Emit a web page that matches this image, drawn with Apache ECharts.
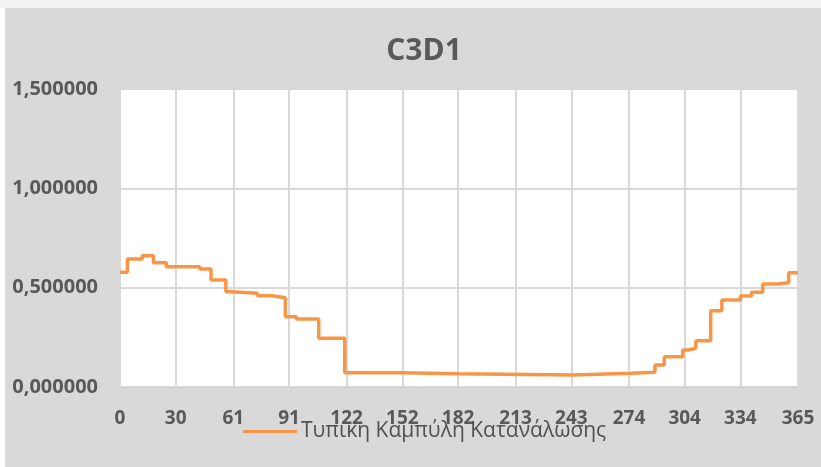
<!DOCTYPE html>
<html>
<head>
<meta charset="utf-8">
<style>
html,body{margin:0;padding:0;background:#ffffff;}
#chart{width:821px;height:467px;}
</style>
<script src="https://cdn.jsdelivr.net/npm/echarts@6/dist/echarts.min.js"></script>
</head>
<body>
<div id="chart"></div>
<script>
// Tick labels on the x axis (day numbers)
var tickDays = [0, 30, 61, 91, 122, 152, 182, 213, 243, 274, 304, 334, 365];
// Day on which each level of the step curve starts
var stepDays = [0, 4, 12, 18, 25, 43, 49, 57, 60, 74, 82, 89, 95, 107, 121, 152, 182, 244, 275, 288, 293, 303, 306, 310, 318, 324, 334, 340, 346, 354, 360, 365];
// Level of the curve from that day on
var stepValues = [0.577, 0.644, 0.661, 0.626, 0.605, 0.594, 0.538, 0.480, 0.472, 0.459, 0.449, 0.354, 0.342, 0.245, 0.072, 0.067, 0.060, 0.069, 0.074, 0.111, 0.152, 0.186, 0.195, 0.233, 0.384, 0.438, 0.458, 0.477, 0.518, 0.525, 0.575, 0.575];
var yTicks = [0, 0.5, 1.0, 1.5];
var seriesName = 'Τυπικη Καμπύλη Κατανάλωσης';
var titleText = 'C3D1';

var categories = [];
for (var d = 0; d <= 365; d++) categories.push(String(d));
var tickSet = {};
tickDays.forEach(function (t) { tickSet[t] = true; });
var lineData = stepDays.map(function (d, i) { return [d, stepValues[i]]; });

var chart = echarts.init(document.getElementById('chart'), null, {renderer: 'canvas'});
var textColor = '#595959';
chart.setOption({
  animation: false,
  backgroundColor: 'transparent',
  graphic: [
    {type: 'rect', z: -10, silent: true, shape: {x: 0, y: 0, width: 821, height: 8}, style: {fill: '#f2f2f2'}},
    {type: 'rect', z: -10, silent: true, shape: {x: 5, y: 8, width: 816, height: 459}, style: {fill: '#d9d9d9'}},
    {type: 'rect', z: -9, silent: true, shape: {x: 120, y: 89, width: 678, height: 298}, style: {fill: '#ffffff'}}
  ],
  title: {
    text: titleText,
    left: 419,
    top: 31,
    textAlign: 'center',
    textStyle: {fontFamily: 'Open Sans', fontWeight: 'bold', fontSize: 30, color: textColor}
  },
  legend: {
    data: [seriesName],
    left: 243,
    top: 421,
    padding: 0,
    itemWidth: 54,
    itemHeight: 3,
    itemGap: 5,
    icon: 'rect',
    textStyle: {fontFamily: 'Open Sans', fontSize: 21, color: '#505050', padding: [0, 0, 0, -1]}
  },
  grid: {left: 120, right: 23, top: 89, bottom: 80, containLabel: false},
  xAxis: {
    type: 'category',
    data: categories,
    boundaryGap: false,
    axisLine: {show: true, lineStyle: {color: '#d0d0d0', width: 1}},
    axisTick: {show: false},
    axisLabel: {
      interval: function (index) { return !!tickSet[index]; },
      margin: 22,
      fontFamily: 'Open Sans', fontWeight: 'bold', fontSize: 19, color: textColor
    },
    splitLine: {
      show: true,
      interval: function (index) { return !!tickSet[index]; },
      lineStyle: {color: '#d9d9d9', width: 2}
    }
  },
  yAxis: {
    type: 'value',
    min: 0,
    max: 1.5,
    interval: 0.5,
    axisLine: {show: true, lineStyle: {color: '#d9d9d9', width: 1}},
    axisTick: {show: false},
    axisLabel: {
      margin: 22,
      fontFamily: 'Open Sans', fontWeight: 'bold', fontSize: 20, color: textColor,
      formatter: function (v) { return v.toFixed(6).replace('.', ','); }
    },
    splitLine: {show: true, lineStyle: {color: '#d9d9d9', width: 2}}
  },
  series: [{
    name: seriesName,
    type: 'line',
    step: 'end',
    data: lineData,
    showSymbol: false,
    symbol: 'none',
    lineStyle: {color: '#f79646', width: 3.5},
    itemStyle: {color: '#f79646'}
  }]
});
</script>
</body>
</html>
